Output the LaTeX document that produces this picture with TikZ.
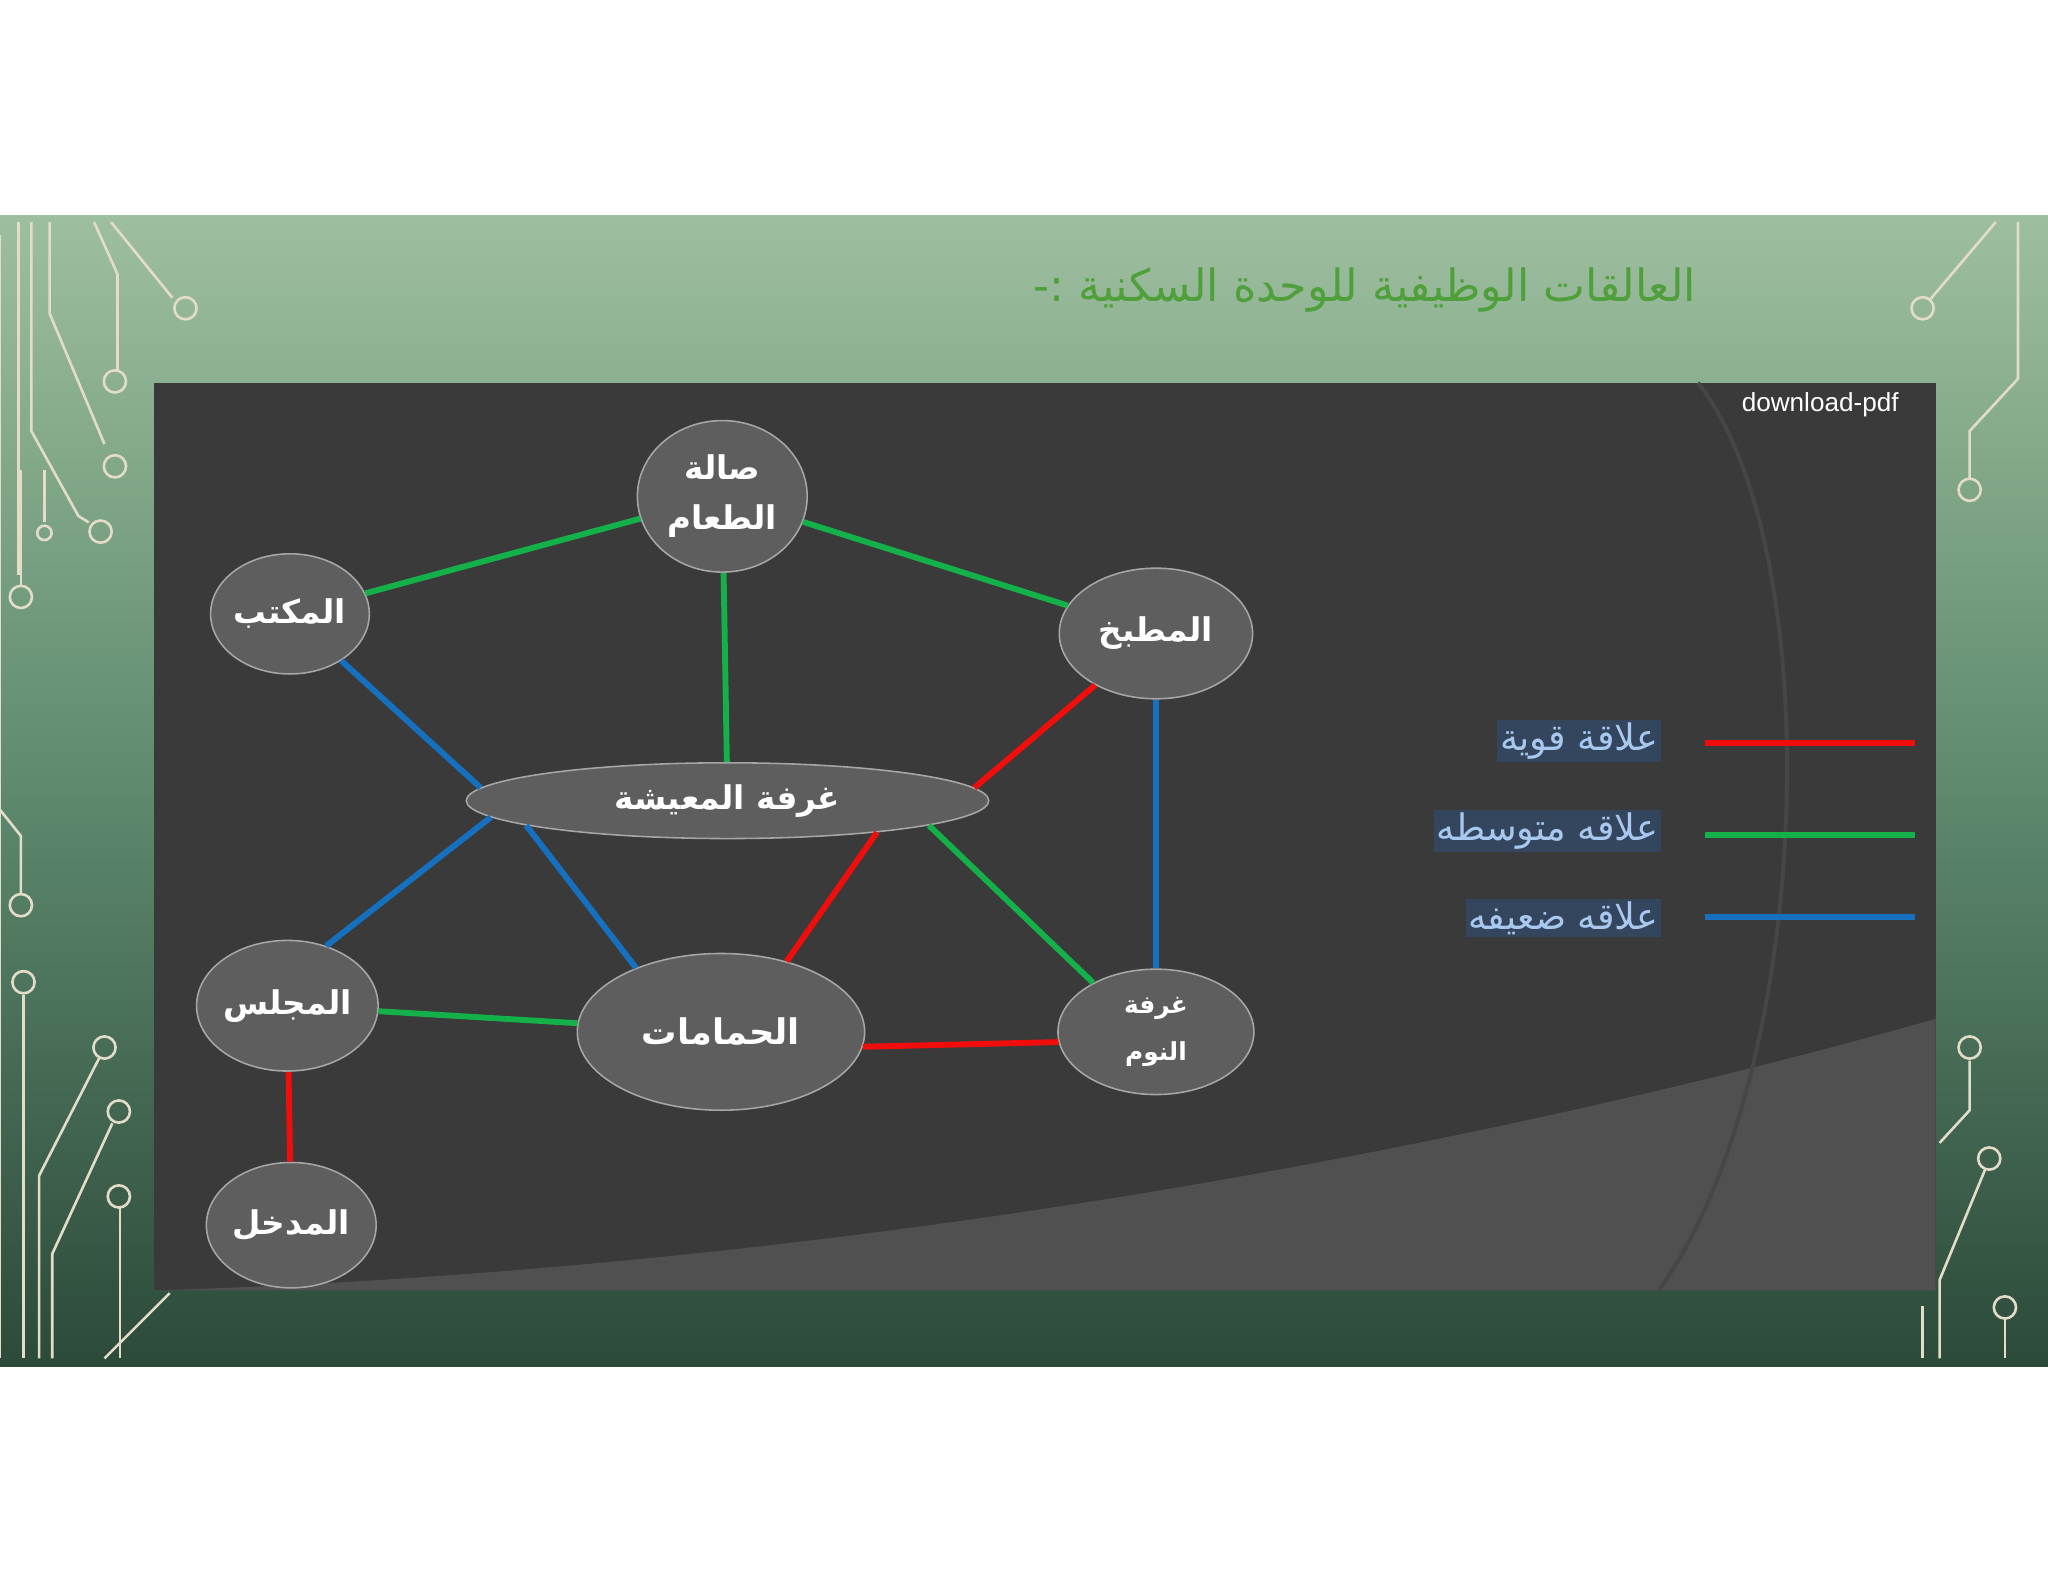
\documentclass[tikz,border=0pt]{standalone}
\usepackage{fontspec}
\TeXXeTstate=1
\newfontfamily\arabicfont[Script=Arabic]{DejaVu Sans}
\setmainfont{Liberation Sans}
\usetikzlibrary{shapes.geometric}
\definecolor{panel}{HTML}{3A3A3A}
\definecolor{panel2}{HTML}{505050}
\definecolor{nodeg}{HTML}{5E5E5E}
\definecolor{rrel}{HTML}{F20D0D}
\definecolor{grel}{HTML}{14B04A}
\definecolor{brel}{HTML}{1670C0}
\definecolor{legbg}{HTML}{34465E}
\definecolor{legtx}{HTML}{A9C8F0}
\definecolor{circ}{HTML}{E2DCC8}
\definecolor{bgtop}{HTML}{9EBF9F}
\definecolor{bgmid}{HTML}{5E8A6E}
\definecolor{bgbot}{HTML}{2C4A3A}
\definecolor{titlec}{HTML}{4FA03A}
\tikzset{
 room/.style={ellipse,fill=nodeg,draw=gray!70,line width=1.2,text=white,font=\arabicfont\bfseries\fontsize{25}{30}\selectfont,inner sep=0pt,align=center},
 rel/.style={line width=4.5},
 leg/.style={fill=legbg,text=legtx,inner sep=2pt,font=\arabicfont\fontsize{28}{32}\selectfont},
 ckt/.style={draw=circ,line width=2},
 pad/.style={circle,draw=circ,line width=2,minimum size=17,inner sep=0pt}
}
\begin{document}
\begin{tikzpicture}[x=1pt,y=-1pt]
\useasboundingbox[fill=white] (0,0) rectangle (1568,1211);
\shade[top color=bgtop, bottom color=bgmid] (0,165) rectangle (1568,600);
\shade[top color=bgmid, bottom color=bgbot] (0,599) rectangle (1568,1046);
% circuits left
\draw[ckt] (0,180)--(0,1040); \draw[ckt] (14,170)--(14,440);
\draw[ckt] (24,170)--(24,330)--(60,395)--(68,400);
\node[pad] at (77,407) {};
\draw[ckt] (38,170)--(38,240)--(80,340); \node[pad] at (88,357) {};
\draw[ckt] (72,170)--(90,210)--(90,284); \node[pad] at (88,292) {};
\draw[ckt] (85,170)--(132,228); \node[pad] at (142,236) {};
\draw[ckt] (16,360)--(16,448); \node[pad] at (16,457) {};
\draw[ckt] (34,360)--(34,400); \node[pad,minimum size=11] at (34,408) {};
\draw[ckt] (0,620)--(16,640)--(16,684); \node[pad] at (16,693) {};
\draw[ckt] (18,762)--(18,1040); \node[pad] at (18,752) {};
\draw[ckt] (30,1040)--(30,900)--(76,810); \node[pad] at (80,802) {};
\draw[ckt] (40,1040)--(40,960)--(86,860); \node[pad] at (91,851) {};
\draw[ckt] (92,925)--(92,1040); \node[pad] at (91,916) {};
\draw[ckt] (80,1040)--(130,990);
% circuits right
\draw[ckt] (1528,170)--(1478,229); \node[pad] at (1472,236) {};
\draw[ckt] (1545,170)--(1545,290)--(1508,330)--(1508,366); \node[pad] at (1508,375) {};
\draw[ckt] (1508,812)--(1508,850)--(1485,875); \node[pad] at (1508,802) {};
\draw[ckt] (1520,895)--(1485,980)--(1485,1040); \node[pad] at (1523,887) {};
\draw[ckt] (1535,1010)--(1535,1040); \node[pad] at (1535,1001) {};
\draw[ckt] (1472,1000)--(1472,1040);
% title
\node[text=titlec,font=\arabicfont\fontsize{34}{38}\selectfont,anchor=east] (title) at (1302,222) {\beginR العالقات الوظيفية للوحدة السكنية :-\endR};
% panel
\fill[panel] (118,293) rectangle (1482,988);
\fill[panel2] (118,988) .. controls (700,970) and (1200,860) .. (1482,780) -- (1482,988) -- cycle;
\draw[gray!55!black,line width=3] (1300,293) .. controls (1400,420) and (1390,820) .. (1270,988);
\begin{scope}
\clip (118,293) rectangle (1482,988);
\node[text=white,font=\fontsize{20}{22}\selectfont,anchor=west] (dl) at (1330,310) {download-pdf};
\end{scope}
% nodes
\node[room,minimum width=130,minimum height=116] (din) at (553,380) {\beginR صالة\endR\\[8pt]\beginR الطعام\endR};
\node[room,minimum width=120,minimum height=92] (off) at (222,470) {\beginR المكتب\endR};
\node[room,minimum width=148,minimum height=100] (kit) at (885,485) {\beginR المطبخ\endR};
\node[room,minimum width=400,minimum height=58] (liv) at (557,613) {\beginR غرفة المعيشة\endR};
\node[room,minimum width=130,minimum height=100] (maj) at (220,770) {\beginR المجلس\endR};
\node[room,minimum width=220,minimum height=120,font=\arabicfont\bfseries\fontsize{27}{30}\selectfont] (bath) at (552,790) {\beginR الحمامات\endR};
\node[room,minimum width=150,minimum height=96,font=\arabicfont\bfseries\fontsize{19}{22}\selectfont] (bed) at (885,790) {\beginR غرفة\endR\\[14pt]\beginR النوم\endR};
\node[room,minimum width=130,minimum height=96] (ent) at (223,938) {\beginR المدخل\endR};
% edges
\draw[rel,grel] (off) -- (din);
\draw[rel,grel] (din) -- (kit);
\draw[rel,grel] (din) -- (liv);
\draw[rel,grel] (maj) -- (bath);
\draw[rel,grel] (liv.-7) -- (bed.142);
\draw[rel,brel] (off) -- (liv.177);
\draw[rel,brel] (liv.184) -- (maj.57);
\draw[rel,brel] (liv.187) -- (bath.143);
\draw[rel,brel] (kit) -- (bed);
\draw[rel,rrel] (kit) -- (liv.3);
\draw[rel,rrel] (liv.-12) -- (bath.47);
\draw[rel,rrel] (bath.-6) -- (bed.186);
\draw[rel,rrel] (maj) -- (ent);
% legend
\node[leg,anchor=east] (l1) at (1272,567) {\beginR علاقة قوية\endR};
\node[leg,anchor=east] (l2) at (1272,636) {\beginR علاقه متوسطه\endR};
\node[leg,anchor=east] (l3) at (1272,703) {\beginR علاقه ضعيفه\endR};
\coordinate (a1) at (1305,569); \coordinate (b1) at (1466,569);
\coordinate (a2) at (1305,639); \coordinate (b2) at (1466,639);
\coordinate (a3) at (1305,702); \coordinate (b3) at (1466,702);
\draw[rel,rrel] (a1)--(b1);
\draw[rel,grel] (a2)--(b2);
\draw[rel,brel] (a3)--(b3);
\end{tikzpicture}
\end{document}
